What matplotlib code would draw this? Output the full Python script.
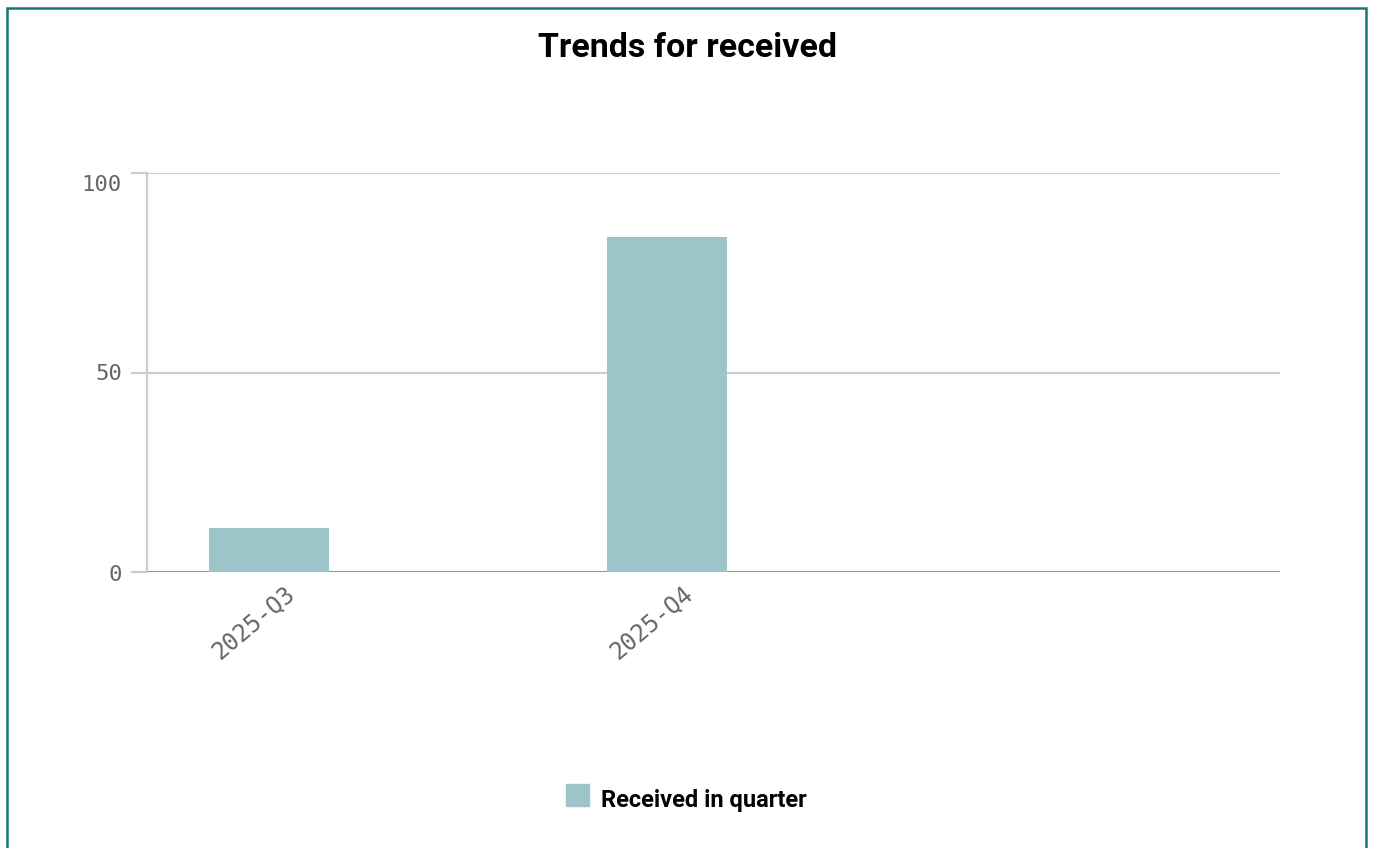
import matplotlib
matplotlib.use('Agg')
import matplotlib.pyplot as plt
import matplotlib.transforms as mtransforms
from matplotlib.patches import Rectangle

# data
quarters = ['2025-Q3', '2025-Q4']
received = [11, 84]
y_ticks = [0, 50, 100]
series_name = 'Received in quarter'
title = 'Trends for received'

W, H, DPI = 1373, 848, 100
bar_color = '#9dc5c9'
mono = 'DejaVu Sans Mono'

fig = plt.figure(figsize=(W / DPI, H / DPI), dpi=DPI)

# axes placed in pixel terms of the reference
ax = fig.add_axes([147 / W, 276 / H, (1280 - 147) / W, (572 - 173) / H])

x = list(range(len(quarters)))
ax.bar(x, received, width=0.30, color=bar_color, zorder=3)

ax.set_xlim(-0.307, 2.540)
ax.set_ylim(0, 100)
ax.set_yticks(y_ticks)
ax.set_yticklabels([])
ax.set_xticks([])

# grid and spines
for v in y_ticks[1:]:
    ax.axhline(v, color='#cccccc', lw=1.5, zorder=1)
ax.axhline(0, color='#999999', lw=1.5, zorder=2)
for s in ['top', 'right', 'bottom']:
    ax.spines[s].set_visible(False)
ax.spines['left'].set_color('#cccccc')
ax.spines['left'].set_linewidth(1.5)
ax.tick_params(axis='y', length=11.5, width=1.5, color='#cccccc')

# y labels (the top one sits a bit below its tick, like the reference)
ylab_shift = {0: -3, 50: -1, 100: -12}
for v in y_ticks:
    off = mtransforms.ScaledTranslation(-25 / DPI, ylab_shift[v] / DPI, fig.dpi_scale_trans)
    ax.text(0, v, str(v), ha='right', va='center', fontsize=16, color='#666666',
            family=mono, transform=ax.get_yaxis_transform() + off)

# rotated category labels
offset = mtransforms.ScaledTranslation(14 / DPI, -9 / DPI, fig.dpi_scale_trans)
for xi, q in zip(x, quarters):
    ax.text(xi, 0, q, rotation=40, rotation_mode='anchor', ha='right', va='top',
            fontsize=17, color='#666666', family=mono,
            transform=ax.transData + offset)

# title
fig.text(687 / W, 1 - 48 / H, title, ha='center', va='center',
         fontsize=24.5, fontweight='bold', family='Roboto', color='black')

# legend
fig.patches.append(Rectangle((566 / W, 1 - 806 / H), 23 / W, 22 / H,
                             transform=fig.transFigure, color=bar_color, figure=fig))
fig.text(601 / W, 1 - 801 / H, series_name, ha='left', va='center',
         fontsize=17, fontweight='bold', family='Roboto', color='black')

# outer teal frame (bottom edge off-canvas)
fig.patches.append(Rectangle((7 / W, -0.05), (1366 - 7) / W, 1.05 - 8 / H,
                             transform=fig.transFigure, fill=False,
                             edgecolor='#137878', lw=1.8, figure=fig))

fig.savefig('out.png', dpi=DPI)
